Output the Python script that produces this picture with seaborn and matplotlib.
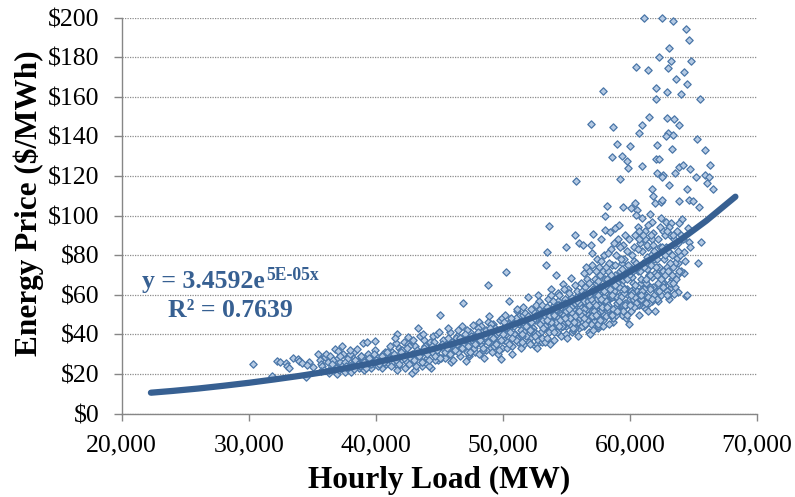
#!/usr/bin/env python3
import matplotlib
matplotlib.use("Agg")
import matplotlib.pyplot as plt
import numpy as np
import pandas as pd
import seaborn as sns

# values, grouped by load range
load_a = [30330,31830,32190,32450,32930,33030,33190,33450,33900,33980,
          34160,34500,34710,34600,35030,35470,35600,35900,35700,35800,
          36000,35650,35950,36200,36300,36100]
price_a = [25,18.9,26.5,26.1,25.3,24,22.8,28,27.5,26.5,
           25.3,18.2,26.1,24.5,23.3,30.3,27,29,25,24,
           28.5,21.5,22,26,20.5,30]

load_b = [36420,36810,37050,37360,36910,37570,36600,36750,37000,37200,
          37450,37700,37900,38100,38300,38490,38650,38800,39000,39330,
          39960,38050,38200,38400,38700,38900,39100,39300,39500,39700,
          39900,40100,40300,40500,40700,40900,37100,37300,37600,37800,
          38000,38250,38550,38750,38950,39150,39400,39600,39800,40000,
          40200,40400,40600,40800,36300,36550,36850,37150,37650,37950]
price_b = [29,32.4,31.7,34.2,19.9,21,27,24,28,26,
           30,23,29,25,31,32.4,27,29,35.5,36.3,
           36.4,21,24,27,23,26,22,29,24,27,
           32,25,28,23,31,27,22,24,26,28,
           30,22.5,26,24,28,25,30,23,26,29,
           24,27,30,25,22,25,23,29,24,32]

load_c = [41050,41250,41400,41560,41690,41850,42000,42200,42350,42530,
          42820,42950,43100,43320,43500,43650,43800,44000,44200,44350,
          44500,44700,44900,45050,45250,45400,45600,45800,46000,41100,
          41300,41500,41750,41950,42100,42300,42500,42700,42900,43050,
          43250,43450,43600,43850,44050,44250,44450,44650,44850,45100,
          45300,45500,45700,45900,41200,41650,42050,42450,42650,43200,
          43700,43950,44150,44550,44800,45000,45450,45650,45850,46050]
price_c = [25,31,28,35.4,40,33,27,36,30,38.8,
           20.6,26,34,43,30,24,37,28,33,23,
           39,30,27,49.9,33,36,29,41,31,34,
           26,38,24,32,30,23,35,28,37,22,
           30,39,26,34,25,36,31,27,40,28,
           37,30,43,26,29,22,32,26,34,24,
           40,31,24,36,32,41,28,38,35,27]

load_d = [46200,46400,46600,46830,47090,47250,47400,47670,47800,48000,
          48150,48300,48500,48700,48850,48900,49050,49200,49400,49600,
          49850,50000,46300,46500,46750,46950,47150,47350,47550,47750,
          47950,48100,48250,48450,48650,48800,49000,49150,49350,49550,
          49750,49950,46100,46450,46700,47000,47300,47500,47850,48050,
          48400,48600,48950,49100,49300,49500,49700,49900,46650,47200]
price_d = [33,39,29,55.8,26.5,36,41,44.7,31,38,
           46.4,35,28,42,64.9,49.2,33,45,37,30,
           27.3,41,38,31,44,35,42,29,37,33,
           40,30,44,37,32,46,39,31,43,36,
           47,33,36,42,33,40,30,39,35,43,
           32,38,36,45,34,40,32,48,38,31]

load_e = [50100,50200,50300,50480,50690,50800,50950,51080,51200,51300,
          51450,51600,51700,51850,52000,52100,52250,52400,52550,52700,
          52850,53000,50150,50350,50500,50650,50750,50900,51050,51150,
          51250,51400,51550,51650,51800,51950,52050,52200,52350,52500,
          52650,52800,52950,50050,50250,50450,50600,50850,51000,51100,
          51350,51500,51750,51900,52150,52300,52450,52600,52750,52900,
          50550,50700,51500,51600,52000,52200,52500,52650,52950,53050]
price_e = [37,44,33,57,30.3,46,40,51.9,36,49,
           42,54,35,47,59,38,44,52,34,48,
           57,41,50,36,43,47,34,40,48,38,
           45,33,50,41,39,46,36,53,43,40,
           35,50,38,46,40,35,48,44,37,53,
           46,39,51,44,35,47,41,55,37,45,
           41,38,36,46,49,42,47,33,53,36]

load_f = [53360,53460,53620,53780,54220,54695,54960,55325,55690,55980,
          50260,52780,53100,53250,53400,53550,53700,53850,54000,54100,
          54300,54450,54550,54700,54850,55000,55150,55300,55450,55600,
          55750,55900,56000,53150,53300,53450,53600,53750,53900,54050,
          54200,54350,54500,54650,54800,54950,55100,55250,55400,55550,
          55700,55850,55950,53050,53200,53350,53500,53650,53800,53950,
          54150,54250,54400,54600,54750,54900,55050,55200,55350,55500,
          55650,55800,54050,54300,54550,54800,55050,55300,55550,55800,
          53700,53950,54200,54450,54700,54950,55200,55450,55700,55950]
price_f = [75,81.7,94.7,63,69.8,65.2,84,68.3,90,86.3,
           71.3,60,38,52,44,58,35,49,55,42,
           61,47,39,53,58,44,63,50,41,56,
           48,60,43,47,36,54,41,60,46,37,
           52,57,43,49,63,40,54,46,59,42,
           65,50,39,55,43,49,38,52,45,57,
           47,41,60,50,44,56,38,61,47,53,
           43,62,51,48,54,46,52,45,57,51,
           44,50,46,55,49,53,47,51,56,46]

load_g = [56320,56930,57110,57690,56100,56200,56350,56500,56650,56800,
          56900,57050,57200,57350,57500,57650,57800,57950,56150,56300,
          56450,56600,56750,56850,57000,57150,57300,57450,57600,57750,
          57900,56050,56250,56400,56550,56700,56950,57100,57250,57400,
          57550,57700,57850,58000,56120,56380,56620,56880,57130,57380,
          57620,57880,56220,56480,56720,56980,57230,57480,57730,57980,
          56550,56800,57050,57300,57550,57800,56700,57000,57400,57700,
          56420,56780,57180,57580,57920,56280,56680,57080,57480,57860]
price_g = [85.3,84.9,90.7,88,48,62,44,56,68,41,
           52,75,47,60,43,70,54,80,58,50,
           64,46,72,40,57,49,66,44,74,52,
           47,54,44,71,60,50,45,63,54,78,
           48,61,44,68,66,57,53,60,42,51,
           58,72,50,61,47,56,68,45,62,50,
           74,66,52,72,55,64,47,81,58,77,
           53,48,56,63,59,46,57,50,67,54]

load_h = [58030,58050,58210,58420,58815,59155,59420,58100,58250,58350,
          58500,58650,58750,58900,59050,59200,59350,59500,59650,59800,
          59950,58150,58300,58450,58600,58700,58850,59000,59100,59250,
          59400,59550,59700,59850,60000,58080,58280,58480,58680,58880,
          59080,59280,59480,59680,59880,58180,58380,58580,58780,58980,
          59180,59380,59580,59780,59980,58120,58420,58720,59020,59320,
          59620,59920,58220,58520,58820,59120,59420,59720,58320,58620,
          58920,59220,59520,59820,58560,58960,59360,59760,58760,59160]
price_h = [92.7,100,104.8,91.8,93.5,95.2,104.3,49,72,58,
           83,46,66,54,88,60,76,50,90,63,
           45,56,81,62,75,48,70,58,85,52,
           67,78,48,60,72,64,53,70,60,80,
           52,65,85,55,75,68,45,62,86,56,
           72,50,63,82,58,74,60,52,67,78,
           56,88,57,50,75,64,55,69,76,59,
           50,84,61,72,66,59,73,50,62,57]

load_i = [60050,60390,60570,60465,60910,61570,61700,61780,61960,60100,
          60200,60300,60400,60500,60600,60700,60800,60900,61000,61100,
          61200,61300,61400,61500,61600,61700,61800,61900,62000,60150,
          60250,60350,60450,60550,60650,60750,60850,60950,61050,61150,
          61250,61350,61450,61550,61650,61750,61850,61950,60120,60320,
          60520,60720,60920,61120,61320,61520,61720,61920,60220,60420,
          60620,60820,61020,61220,61420,61620,61820,60280,60680,61080,
          61480,61880,60480,60880,61280,61680,60180,60780,61380,61580]
price_i = [103.6,106.5,102.8,100.3,98.6,100.8,96.9,110,106.5,52,
           80,63,90,56,72,50,86,66,76,54,
           92,60,84,70,57,88,64,78,52,69,
           58,84,74,62,94,55,68,82,60,88,
           53,73,95,64,80,57,91,71,62,77,
           55,88,63,74,85,56,69,60,72,59,
           83,61,90,67,52,75,85,66,92,57,
           70,82,76,58,66,90,73,60,79,63]

load_j = [62410,62800,63220,64090,63850,63870,62430,62540,63060,64530,
          64640,64980,65430,64590,64660,65610,64270,65320,64220,63670,
          63400,63750,63480,64400,64500,62230,63800,63670,63140,62100,
          62200,62300,62450,62600,62700,62850,62950,63050,63150,63300,
          63450,63550,63700,63950,64050,64150,62150,62250,62350,62500,
          62650,62750,62900,63000,63100,63250,63350,63500,63600,63750,
          63900,64000,64350,64750,62180,62380,62580,62780,62980,63180,
          63380,63580,63780,62120,62320,62520,62720,62920,63120,63320,
          62050,62480,62880,63280]
price_j = [98.5,96.6,96.1,98.3,96,107.3,106.7,107.8,115.6,113.2,
           107.8,107.2,104.5,93.5,86.8,86.4,81.7,75.8,70.8,70,
           67.4,61.2,60.2,59.5,60,56.8,75.8,78.4,80.9,62,
           88,70,60,92,66,84,74,58,90,68,
           85,76,92,80,72,88,58,74,84,66,
           78,90,62,82,94,64,74,88,68,82,
           72,90,77,84,66,94,72,80,60,76,
           90,64,86,78,62,84,70,92,66,80,
           74,68,60,70]

# extra points for the solid part of the band around the trendline
load_k = [52100,52400,52700,53000,53300,53600,53900,54200,54500,54800,
          55100,55400,55700,56000,56300,56600,56900,57200,57500,57800,
          58100,58400,58700,59000,59300,59600,59900,60200,60500,60800,
          61100,61400,52250,52550,52850,53150,53450,53750,54050,54350,
          54650,54950,55250,55550,55850,56150,56450,56750,57050,57350,
          57650,57950,58250,58550,58850,59150,59450,59750,60050,60350,
          60650,60950,61250,61550,51500,51800,53500,54000,54400,54900,
          55200,55600,56000,56400,56800,57300,57700,58200,58600,59000,
          59500,60000,60400,60900,61300,61700,62100,62600,63000,63400]
price_k = [42,47,40,51,44,49,43,53,47,50,
           46,54,49,56,51,47,58,52,60,54,
           57,63,53,66,59,55,70,61,56,72,
           63,59,46,39,50,43,54,46,41,55,
           44,52,48,43,57,50,45,60,49,55,
           47,62,55,50,65,57,52,68,60,54,
           74,62,56,70,40,44,47,50,44,48,
           53,46,52,48,55,50,58,54,60,52,
           63,55,65,60,68,58,70,64,72,66]

load_m = [38100,38350,38600,38850,39050,39250,39450,39650,39850,40050,
          40250,40450,40650,40850,41020,41220,41420,41620,41820,42020,
          42220,42420,42620,42820,43020,43220,43420,43620,43820,44020,
          44220,44420,44620,44820,45020,45220,45420,45620,45820,46020,
          46220,46420,46620,46820,47020,47220,47420,47620,47820,48020,
          48220,48420,48620,48820,49020,49220,49420,49620,49820,50020]
price_m = [24,27,25,29,26,23,28,25,30,27,
           25,29,26,31,28,24,30,27,25,31,
           28,33,25,30,27,32,29,26,33,30,
           27,34,29,32,28,35,31,33,30,36,
           32,35,38,33,37,34,31,38,35,41,
           37,33,39,36,43,38,35,41,37,40]

# sparse points above $110
load_top = [61090,62510,63350,64375,64630,63035,62250,63270,64790,60465,
            61460,63010,64220,63615,64480,62090,62880,64030,57870,62090,
            65525,61510,62880,63460,63870,60960,56925,58630,60680,63010,
            62800,63400,65290,59020,59970,62140,63320,65880,58550,59340,
            59760,62040,62250,59865,60910,62145,62620,62490,63535,63825,
            64165,64715,66340,65160,65870,66210,66030,66500,59230,55720,
            61700]
price_top = [200,199.9,198.2,194,188.6,184.4,180.2,177.9,177.9,175,
             173.6,174.5,172.3,168.9,166.2,164.2,162.2,161.4,163,158.7,
             158.7,149.7,149,148.7,145.7,145.7,146.4,144.5,141.5,141.5,
             140,140.5,138.5,136,135,135.8,133.7,133.2,129.4,130.2,
             127.5,128.5,128.5,123.8,125,121.6,120.5,119.3,121.3,124.7,
             125.4,123.5,125.4,119.6,120.6,119.6,116.4,113.4,118.5,117.6,
             113.6]

# trendline as drawn
trend_load = [22300,24000,26000,28000,30000,32000,34000,36000,38000,40000,42000,44000,
              46000,48000,50000,52000,54000,56000,58000,60000,62000,64000,66000,68300]
trend_price = [10.5,11.4,12.6,14.0,15.5,17.2,19.0,21.0,23.3,25.8,28.6,31.7,
               35.1,38.8,43.0,47.6,52.8,58.4,64.7,71.6,79.4,87.8,97.3,109.5]

x_ticks = [20000, 30000, 40000, 50000, 60000, 70000]
x_labels = ["20,000", "30,000", "40,000", "50,000", "60,000", "70,000"]
y_ticks = [0, 20, 40, 60, 80, 100, 120, 140, 160, 180, 200]
y_labels = ["$0", "$20", "$40", "$60", "$80", "$100", "$120", "$140", "$160", "$180", "$200"]

BLUE = "#376092"
AXIS_GREY = "#868686"
W, H = 795, 497


def main():
    sns.set_theme(style="white")
    plt.rcParams["font.family"] = ["Liberation Serif", "DejaVu Serif"]

    df = pd.DataFrame({
        "load": np.concatenate([load_a, load_b, load_c, load_d, load_e, load_f,
                                load_g, load_h, load_i, load_j, load_k, load_m, load_top]),
        "price": np.concatenate([price_a, price_b, price_c, price_d, price_e, price_f,
                                 price_g, price_h, price_i, price_j, price_k, price_m, price_top]),
    })
    trend = pd.DataFrame({"load": trend_load, "price": trend_price})

    fig = plt.figure(figsize=(W / 100, H / 100), dpi=100)
    ax = fig.add_axes([121.7 / W, (H - 413.5) / H, 635.3 / W, 396 / H])

    sns.scatterplot(data=df, x="load", y="price", ax=ax, marker="D", s=14,
                    color="#b4c9e3", edgecolor="#4a76a8", linewidth=0.9,
                    zorder=3, clip_on=False)
    sns.lineplot(data=trend, x="load", y="price", ax=ax, color=BLUE, linewidth=4.5,
                 errorbar=None, zorder=4, solid_capstyle="round")

    ax.set_xlim(20000, 70000)
    ax.set_ylim(0, 200)
    ax.set_xticks(x_ticks, x_labels)
    ax.set_yticks(y_ticks, y_labels)
    ax.tick_params(axis="x", direction="out", length=5, width=1, color=AXIS_GREY,
                   labelsize=18.5, labelcolor="black", pad=10, bottom=True)
    ax.tick_params(axis="y", direction="out", length=6, width=1, color=AXIS_GREY,
                   labelsize=18.5, labelcolor="black", pad=10, left=True)
    ax.grid(axis="y", color="#8c8c8c", linestyle=(0, (1, 1)), linewidth=0.9, zorder=0)
    ax.grid(axis="x", visible=False)
    ax.set_axisbelow(True)
    for side in ("top", "right"):
        ax.spines[side].set_visible(False)
    for side in ("left", "bottom"):
        ax.spines[side].set_color(AXIS_GREY)
        ax.spines[side].set_linewidth(1)

    ax.set_xlabel("Hourly Load (MW)", fontsize=22.5, fontweight="bold", color="black")
    ax.set_ylabel("Energy Price ($/MWh)", fontsize=22.5, fontweight="bold", color="black")
    ax.xaxis.set_label_coords(0.5, -0.132)
    ax.yaxis.set_label_coords(-0.122, 0.530)

    # trendline label sits in the plot, same blue as the line
    eq = dict(color=BLUE, fontweight="bold", va="baseline")
    fig.text(142 / W, 1 - 288 / H, "y = 3.4592e", fontsize=18.5, **eq)
    fig.text(266 / W, 1 - 280 / H, "5E-05x", fontsize=12.7, **eq)
    fig.text(168 / W, 1 - 317 / H, "R\u00b2 = 0.7639", fontsize=18.5, **eq)

    fig.savefig("out.png", dpi=100)


if __name__ == "__main__":
    main()
